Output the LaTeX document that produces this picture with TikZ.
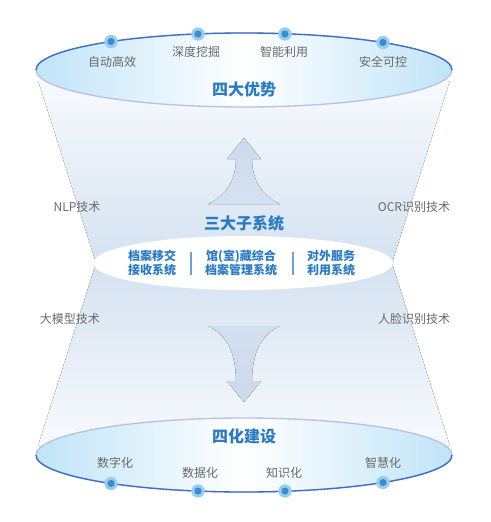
\documentclass[tikz,border=0pt]{standalone}
\usepackage{fontspec}
\setmainfont{Noto Sans CJK SC}
\usetikzlibrary{positioning}

\definecolor{titleblue}{RGB}{42,123,196}
\definecolor{labelgray}{RGB}{105,105,105}
\definecolor{rimdark}{RGB}{62,110,194}
\definecolor{rimlight}{RGB}{184,192,232}
\definecolor{bowlside}{RGB}{192,228,248}
\definecolor{funnelmid}{RGB}{212,226,241}
\definecolor{funnelend}{RGB}{248,250,253}
\definecolor{arrowfill}{RGB}{204,218,236}
\definecolor{dotring}{RGB}{150,206,242}
\definecolor{dotcore}{RGB}{58,140,206}

\tikzset{every picture/.style={line width=0.75pt}}

\begin{document}
\begin{tikzpicture}[x=0.75pt,y=0.75pt,yscale=-1,xscale=1,
  title/.style={text=titleblue,font=\bfseries\fontsize{12pt}{14pt}\selectfont,inner sep=0.75pt},
  label/.style={text=labelgray,font=\fontsize{9pt}{11pt}\selectfont,inner sep=0.75pt},
  subsys/.style={text=titleblue,font=\bfseries\fontsize{9pt}{10.5pt}\selectfont,align=center,inner sep=0.75pt},
  dot/.style={circle,fill=dotring,minimum size=10pt,inner sep=0pt,
    path picture={\fill[dotcore] (path picture bounding box.center) circle (2.7pt);}},
  bowl/.style={left color=bowlside,right color=bowlside,middle color=white,draw=rimlight,line width=1pt}]
\useasboundingbox (0,0) rectangle (491,522);

%Shape: upper funnel
\fill [top color=funnelend,bottom color=funnelmid] (38,80) -- (450,80) -- (392,263) -- (96,263) -- cycle ;
%Shape: lower funnel
\fill [top color=funnelmid,bottom color=funnelend] (96,263) -- (392,263) -- (450,446) -- (38,446) -- cycle ;

%Shape: up arrow
\fill [top color=arrowfill,bottom color=funnelmid] (244,138) -- (261,159) -- (252,159) .. controls (252,180) and (262,196) .. (280,204) -- (208,204) .. controls (226,196) and (236,180) .. (236,159) -- (227,159) -- cycle ;
%Shape: down arrow
\fill [top color=funnelmid!60!arrowfill,bottom color=arrowfill] (208,326) .. controls (226,334) and (236,352) .. (236,381) -- (227,381) -- (244,402) -- (261,381) -- (252,381) .. controls (252,352) and (262,334) .. (280,326) -- cycle ;

%Shape: top ellipse
\draw [bowl] (244,70) ellipse [x radius=208,y radius=37] ;
\draw [rimdark,line width=1pt] (36,70) arc [start angle=180,end angle=360,x radius=208,y radius=37] ;
%Shape: bottom ellipse
\draw [bowl] (244,455) ellipse [x radius=208,y radius=37] ;
\draw [rimdark,line width=1pt] (452,455) arc [start angle=0,end angle=180,x radius=208,y radius=37] ;
%Shape: middle ellipse
\fill [white] (243,263) ellipse [x radius=150,y radius=27] ;

% dots on the top rim
\node [dot] (t1) at (111,41.5) {};
\node [dot] (t2) at (198,34) {};
\node [dot] (t3) at (285,34) {};
\node [dot] (t4) at (383,42.5) {};
% dots on the bottom rim
\node [dot] (b1) at (111,483.5) {};
\node [dot] (b2) at (198,491) {};
\node [dot] (b3) at (285,491) {};
\node [dot] (b4) at (383,482.5) {};

% Text Node
\node [title] (advantage) at (244,89) {四大优势};
\node [label] (auto) at (112,62) {自动高效};
\node [label] (mining) at (196,52) {深度挖掘};
\node [label] (smartuse) at (284,52) {智能利用};
\node [label] (safe) at (383,62) {安全可控};

% Text Node
\node [title] (subsystems) at (244,223) {三大子系统};
\node [subsys] (transfer) at (152,263) {档案移交\\接收系统};
\node [subsys] (manage) at (241,263) {馆(室)藏综合\\档案管理系统};
\node [subsys] (service) at (331,263) {对外服务\\利用系统};
\draw [titleblue!70,line width=0.9pt] (191,252) -- (191,275) ;
\draw [titleblue!70,line width=0.9pt] (293,252) -- (293,275) ;

% Text Node
\node [label] (nlp) at (77,207) {NLP技术};
\node [label] (ocr) at (414,207) {OCR识别技术};
\node [label] (llm) at (70,319) {大模型技术};
\node [label] (face) at (414,319) {人脸识别技术};

% Text Node
\node [title] (build) at (244,436) {四化建设};
\node [label] (digit) at (115,463) {数字化};
\node [label] (data) at (200,473) {数据化};
\node [label] (know) at (284,473) {知识化};
\node [label] (wisdom) at (383,463) {智慧化};

\end{tikzpicture}
\end{document}
